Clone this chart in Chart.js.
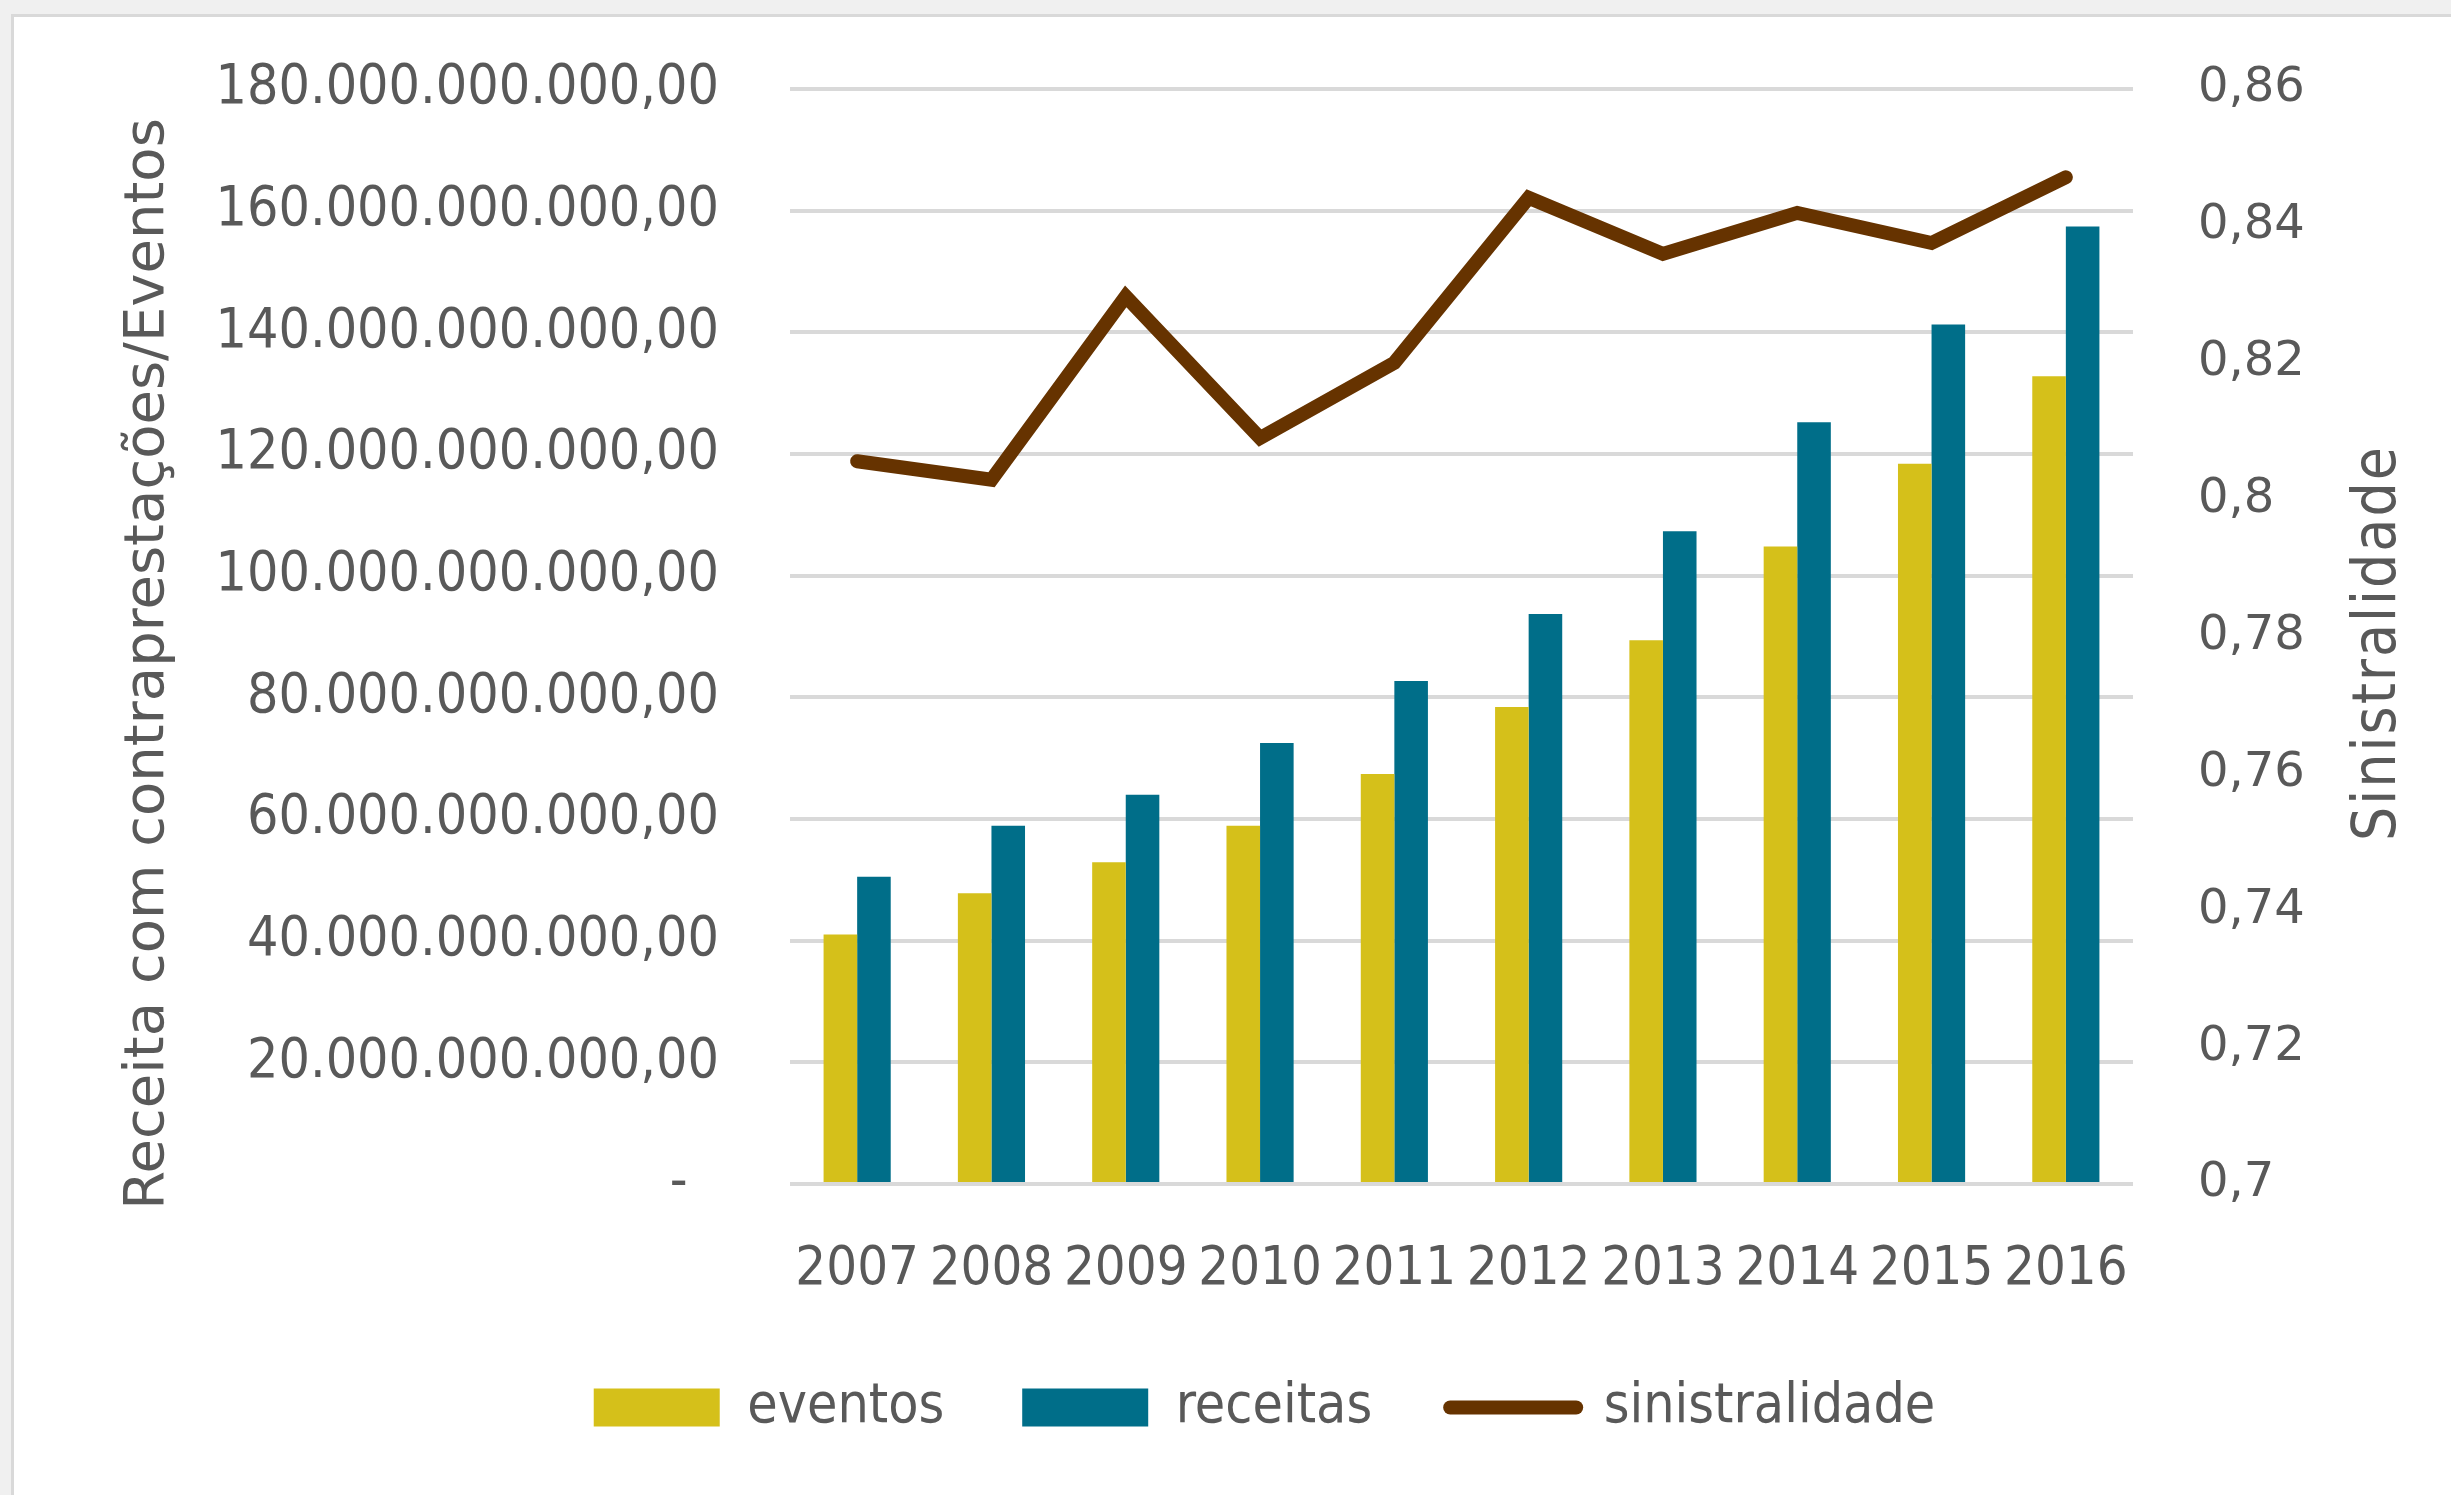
<!DOCTYPE html>
<html>
<head>
<meta charset="utf-8">
<script src="https://cdn.jsdelivr.net/npm/chart.js@4"></script>
<style>
  body { margin: 0; background: #f0f0f0; }
  #frame {
    position: absolute;
    left: 11px;
    top: 14px;
    border-left: 3px solid #d9d9d9;
    border-top: 3px solid #d9d9d9;
    background: #ffffff;
    width: 2437px;
    height: 1478px;
  }
  canvas { display: block; }
</style>
</head>
<body>
<div id="frame"><canvas id="chart" width="2437" height="1478" style="width:2437px;height:1478px"></canvas></div>
<script>
const years = ["2007", "2008", "2009", "2010", "2011", "2012", "2013", "2014", "2015", "2016"];
const eventos = [41.0e9, 47.8e9, 52.9e9, 58.9e9, 67.4e9, 78.4e9, 89.4e9, 104.8e9, 118.4e9, 132.8e9];
const receitas = [50.5e9, 58.9e9, 64.0e9, 72.5e9, 82.7e9, 93.7e9, 107.3e9, 125.2e9, 141.3e9, 157.4e9];
const sinistralidade = [0.8056, 0.8029, 0.8297, 0.809, 0.82, 0.8441, 0.8359, 0.8419, 0.8375, 0.8471];
const leftTicks = [0, 20e9, 40e9, 60e9, 80e9, 100e9, 120e9, 140e9, 160e9, 180e9];
const rightTicks = [0.7, 0.72, 0.74, 0.76, 0.78, 0.8, 0.82, 0.84, 0.86];

const narrow = "'DejaVu Sans Condensed', 'Liberation Sans Narrow', sans-serif";
const wide = "'DejaVu Sans', sans-serif";
const grey = "#595959";

function fmtMoney(v) {
  if (v === 0) return "-  ";
  const s = Math.round(v).toString().replace(/\B(?=(\d{3})+(?!\d))/g, ".");
  return s + ",00";
}

function fmtRatio(v) {
  let s = v.toFixed(2);
  if (s.endsWith("0")) s = s.slice(0, -1);
  return s.replace(".", ",");
}

// os dois titulos de eixo, ambos lidos de baixo para cima como no original
const axisTitles = {
  id: "axisTitles",
  afterDraw(chart) {
    const ctx = chart.ctx;
    ctx.save();
    ctx.fillStyle = grey;
    ctx.textAlign = "center";

    ctx.save();
    ctx.translate(134, 647);
    ctx.rotate(-Math.PI / 2);
    ctx.font = "56px " + wide;
    ctx.textBaseline = "middle";
    ctx.fillText("Receita com contraprestações/Eventos", 0, 0);
    ctx.restore();

    ctx.save();
    ctx.translate(2381, 626);
    ctx.rotate(-Math.PI / 2);
    ctx.font = "60px " + narrow;
    ctx.letterSpacing = "2px";
    ctx.textBaseline = "alphabetic";
    ctx.fillText("Sinistralidade", 0, 0);
    ctx.restore();

    ctx.restore();
  },
};

const chart = new Chart(document.getElementById("chart").getContext("2d"), {
  type: "bar",
  data: {
    labels: years,
    datasets: [
      {
        type: "line",
        label: "sinistralidade",
        data: sinistralidade,
        yAxisID: "y1",
        borderColor: "#663300",
        backgroundColor: "#663300",
        borderWidth: 14,
        borderCapStyle: "round",
        borderJoinStyle: "miter",
        pointRadius: 0,
        tension: 0,
        order: 0,
      },
      {
        label: "eventos",
        data: eventos,
        yAxisID: "y",
        backgroundColor: "#d5c01a",
        categoryPercentage: 0.5,
        barPercentage: 1.0,
        order: 1,
      },
      {
        label: "receitas",
        data: receitas,
        yAxisID: "y",
        backgroundColor: "#006e89",
        categoryPercentage: 0.5,
        barPercentage: 1.0,
        order: 1,
      },
    ],
  },
  plugins: [axisTitles],
  options: {
    responsive: false,
    animation: false,
    devicePixelRatio: 1,
    layout: { padding: { left: 64, right: 0, top: 72, bottom: 50 } },
    plugins: {
      tooltip: { enabled: false },
      legend: {
        position: "bottom",
        labels: {
          usePointStyle: true,
          pointStyleWidth: 126,
          boxHeight: 38,
          padding: 78,
          color: grey,
          font: { family: narrow, size: 55 },
          sort: (a, b) => (a.datasetIndex === 0) - (b.datasetIndex === 0),
          generateLabels(chart) {
            const items = Chart.defaults.plugins.legend.labels.generateLabels(chart);
            items.forEach((it) => {
              if (it.datasetIndex === 0) {
                it.pointStyle = "line";
                it.lineWidth = 14;
                it.lineCap = "round";
              } else {
                it.pointStyle = "rect";
                it.lineWidth = 0;
              }
            });
            return items;
          },
        },
      },
    },
    scales: {
      x: {
        grid: { display: false },
        border: { display: false },
        ticks: {
          color: grey,
          font: { family: narrow, size: 54 },
          padding: 46,
          maxRotation: 0,
          autoSkip: false,
        },
        afterFit(scale) {
          scale.height = 118;
        },
      },
      y: {
        position: "left",
        min: 0,
        max: 180e9,
        afterBuildTicks(scale) {
          scale.ticks = leftTicks.map((v) => ({ value: v }));
        },
        // marcas invisiveis so para afastar os rotulos da area do grafico
        grid: { color: "#d9d9d9", lineWidth: 4, drawTicks: true, tickLength: 71, tickColor: "rgba(0,0,0,0)" },
        border: { display: false },
        ticks: {
          color: grey,
          font: { family: narrow, size: 55 },
          padding: 0,
          callback: (v) => fmtMoney(v),
        },
        afterFit(scale) {
          scale.width = 712;
        },
      },
      y1: {
        position: "right",
        min: 0.7,
        max: 0.86,
        afterBuildTicks(scale) {
          scale.ticks = rightTicks.map((v) => ({ value: v }));
        },
        grid: { display: false, drawOnChartArea: false, drawTicks: true, tickLength: 65, tickColor: "rgba(0,0,0,0)" },
        border: { display: false },
        ticks: {
          color: grey,
          font: { family: wide, size: 48 },
          padding: 0,
          callback: (v) => fmtRatio(v),
        },
        afterFit(scale) {
          scale.width = 318;
        },
      },
    },
  },
});
</script>
</body>
</html>
